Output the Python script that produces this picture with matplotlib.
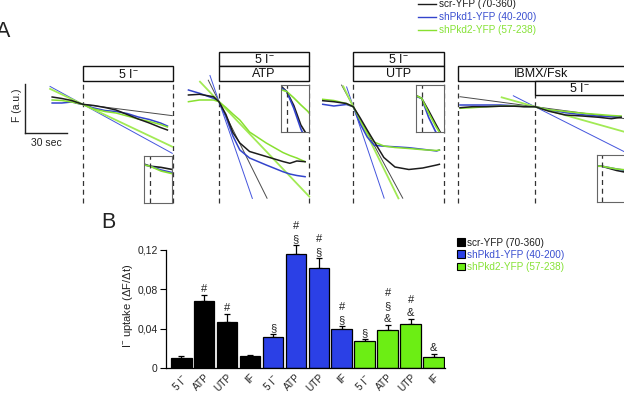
import matplotlib
matplotlib.use('Agg')
import matplotlib.pyplot as plt
from matplotlib.patches import Rectangle, Patch
from matplotlib.lines import Line2D

plt.rcParams['font.family'] = ['Liberation Sans', 'DejaVu Sans']
plt.rcParams['mathtext.fontset'] = 'custom'
plt.rcParams['mathtext.rm'] = 'Liberation Sans'
plt.rcParams['mathtext.it'] = 'Liberation Sans:italic'
plt.rcParams['mathtext.bf'] = 'Liberation Sans:bold'

# ---------------- data ----------------
groups = ['scr-YFP (70-360)', 'shPkd1-YFP (40-200)', 'shPkd2-YFP (57-238)']

# Panel A: time (s) relative to I- addition, fluorescence F (a.u.)
t1 = [-22, -15, -8, 0, 8, 16, 24, 32, 40, 48, 56, 61]
p1_scr = [7.3, 5.8, 3.8, 0, -1.2, -3.2, -5.7, -10.2, -14.7, -18.7, -23.2, -25.7]
p1_pkd1 = [1.3, 1.3, 2.3, 0, -3.7, -6.2, -7.2, -9.2, -12.7, -15.2, -18.7, -21.7]
p1_pkd2 = [4.3, 3.8, 2.3, 0, -4.7, -7.2, -8.7, -11.7, -14.7, -17.2, -20.2, -22.7]

t2 = [-22, -14, -4, 0, 5, 10, 15, 22, 34, 46, 51, 56, 62]
p2_scr = [6.7, 7.4, 5.0, 0, -12.8, -30.8, -41.3, -49.8, -54.8, -59.8, -61.6, -59.3, -60.0]
p2_pkd1 = [11.7, 8.4, 3.4, 0, -15.3, -34.3, -48.3, -56.3, -63.3, -70.0, -72.3, -73.8, -75.0]
p2_pkd2 = [0.0, 1.7, 1.7, 0, -5.8, -12.3, -18.3, -30.3, -41.3, -50.8, -53.8, -56.3, -60.0]

t3 = [-22, -14, -5, 0, 5, 10, 15, 22, 30, 40, 50, 60, 62]
p3_scr = [6.0, 5.0, 3.2, 0, -11.3, -23.3, -34.8, -50.8, -60.3, -62.8, -61.3, -58.3, -57.6]
p3_pkd1 = [2.4, 0.7, 2.2, 0, -17.3, -30.3, -38.6, -39.5, -40.1, -41.0, -42.6, -44.3, -43.3]
p3_pkd2 = [7.4, 6.2, 3.2, 0, -13.3, -25.3, -35.3, -39.3, -40.8, -41.8, -43.0, -43.8, -43.3]

t4 = [-54, -45, -35, -25, -15, -8, 0, 10, 22, 34, 46, 55, 62]
p4_scr = [-1.0, 0, 0, 0.5, 0.5, 0, 0, -4.5, -8.3, -9.3, -10.6, -12.0, -10.6]
p4_pkd1 = [1.7, 1.7, 1.7, 1.7, 1.0, 0.2, 0, -3.0, -6.0, -8.0, -9.5, -10.0, -10.0]
p4_pkd2 = [-1.6, -1.0, 0, 0.5, 0.7, 0.3, 0, -3.0, -4.8, -6.5, -7.8, -8.8, -9.3]

# initial-rate fits: slope (F/s), start and end time (s), order scr, pkd1, pkd2
fit_slope = [[-0.176, -0.76, -0.657], [-2.79, -4.03, -1.46],
             [-2.57, -4.12, -2.82], [-0.185, -0.70, -0.39]]
fit_start = [[-5, -23.5, -23.5], [-7.7, -6.5, -13.7],
             [-8.4, -4.8, -7.2], [-54, -15.6, -24]]
fit_end = [[64.5, 64.5, 64.5], [34.6, 24, 65],
           [35.6, 22.2, 32.5], [64, 64, 64]]

stim_end = 65          # s, end of I- application
ibmx_start = -55.2     # s, IBMX/Fsk pre-treatment start
scale_t = 30           # s
scale_f = 49           # a.u.

# Panel B
conditions = ['5 I$^{-}$', 'ATP', 'UTP', 'IF']
uptake_scr = [0.0104, 0.0678, 0.0462, 0.0124]
uptake_pkd1 = [0.0317, 0.115, 0.101, 0.0397]
uptake_pkd2 = [0.0273, 0.038, 0.0442, 0.0114]
sem_scr = [0.0013, 0.0062, 0.0085, 0.0012]
sem_pkd1 = [0.0023, 0.0092, 0.0105, 0.0025]
sem_pkd2 = [0.0019, 0.0055, 0.0050, 0.0025]
# significance symbols, listed top to bottom
sig_scr = [[], ['#'], ['#'], []]
sig_pkd1 = [['§'], ['#', '§'], ['#', '§'], ['#', '§']]
sig_pkd2 = [['§'], ['#', '§', '&'], ['#', '&'], ['&']]
yticks_B = [0, 0.04, 0.08, 0.12]
ytick_labels_B = ['0', '0,04', '0,08', '0,12']

# ---------------- style ----------------
trace_col = ['#1c1c1c', '#3344cc', '#88e030']
fit_col = ['#4a4a4a', '#4455dd', '#a2ea55']
fit_lw = [0.7, 0.7, 1.3]
bar_col = ['#000000', '#2b40e6', '#6cee14']
text_col = ['#1e1e1e', '#3a4fd0', '#86e236']

W, H = 624, 393
fig = plt.figure(figsize=(W / 100, H / 100), dpi=100)


def rect(l, t, r, b):
    return [l / W, 1 - b / H, (r - l) / W, (b - t) / H]


S_PX = 0.72  # seconds per pixel
AX_TOP, AX_BOT = 40, 205


def yfrac(py):
    return (AX_BOT - py) / (AX_BOT - AX_TOP)


def trace_axes(left, right, px0, py0):
    ax = fig.add_axes(rect(left, AX_TOP, right, AX_BOT))
    ax.set_xlim((left - px0) * S_PX, (right - px0) * S_PX)
    ax.set_ylim(py0 - AX_BOT, py0 - AX_TOP)
    ax.axis('off')
    return ax


rows = {0: (51.7, 66), 1: (66, 80.7), 2: (80.7, 95)}


def stim_box(ax, t0, t1, row, label, tc=None):
    top, bot = rows[row]
    y0 = yfrac(bot)
    h = yfrac(top) - y0
    tr = ax.get_xaxis_transform()
    ax.add_patch(Rectangle((t0, y0), t1 - t0, h, transform=tr, fc='white',
                           ec='#111111', lw=1.0, clip_on=False, zorder=5))
    tc = (t0 + t1) / 2 if tc is None else tc
    ax.text(tc, y0 + h / 2 - 0.005, label, transform=tr, ha='center', va='center',
            fontsize=9, zorder=6, clip_on=False, color='#111111')


def vdash(ax, t, top_py):
    ax.axvline(t, ymin=yfrac(203), ymax=yfrac(top_py), color='#333333', lw=0.9,
               ls=(0, (4, 3)), zorder=1)


def draw_traces(ax, t, ys, lw=1.1):
    for i, y in enumerate(ys):
        ax.plot(t, y, color=trace_col[i], lw=lw, zorder=3 + (i == 0) * 0.5)


def draw_fits(ax, k):
    for i in range(3):
        ts = [fit_start[k][i], fit_end[k][i]]
        ax.plot(ts, [fit_slope[k][i] * x for x in ts], color=fit_col[i],
                lw=fit_lw[i], zorder=2)


def inset(box, t, ys, xl, yl):
    ax = fig.add_axes(rect(*box))
    ax.set_facecolor('white')
    ax.set_zorder(10)
    for i, y in enumerate(ys):
        ax.plot(t, y, color=trace_col[i], lw=1.2)
    ax.axvline(0, color='#333333', lw=0.9, ls=(0, (4, 3)))
    ax.set_xlim(*xl)
    ax.set_ylim(*yl)
    ax.set_xticks([])
    ax.set_yticks([])
    for s in ax.spines.values():
        s.set_color('#666666')
        s.set_linewidth(0.8)
    return ax


# ---- Panel A ----
fig.text(-4 / W, 1 - 36.7 / H, 'A', fontsize=15.5, color='#222222', ha='left',
         va='baseline')

ax1 = trace_axes(5, 180, 82.7, 104.3)
draw_fits(ax1, 0)
draw_traces(ax1, t1, [p1_scr, p1_pkd1, p1_pkd2])
vdash(ax1, 0, 80.7)
vdash(ax1, stim_end, 80.7)
stim_box(ax1, 0, stim_end, 1, '5 I$^{-}$')
sb_t0, sb_f0 = -41.5, -29
ax1.plot([sb_t0, sb_t0 + scale_t], [sb_f0, sb_f0], color='#222222', lw=1.0)
ax1.plot([sb_t0, sb_t0], [sb_f0, sb_f0 + scale_f], color='#222222', lw=1.0)
fig.text(17.3 / W, 1 - 105 / H, 'F (a.u.)', rotation=90, fontsize=7.5,
         ha='center', va='center', color='#222222')
fig.text(46 / W, 1 - 143.5 / H, '30 sec', fontsize=7.5, ha='center',
         va='center', color='#222222')

ax2 = trace_axes(183, 315, 219, 101.7)
draw_fits(ax2, 1)
draw_traces(ax2, t2, [p2_scr, p2_pkd1, p2_pkd2])
vdash(ax2, 0, 80.7)
vdash(ax2, stim_end, 80.7)
stim_box(ax2, 0, stim_end, 0, '5 I$^{-}$')
stim_box(ax2, 0, stim_end, 1, 'ATP')

ax3 = trace_axes(318, 450, 353.3, 106.7)
draw_fits(ax3, 2)
draw_traces(ax3, t3, [p3_scr, p3_pkd1, p3_pkd2])
vdash(ax3, 0, 80.7)
vdash(ax3, stim_end, 80.7)
stim_box(ax3, 0, stim_end, 0, '5 I$^{-}$')
stim_box(ax3, 0, stim_end, 1, 'UTP')

ax4 = trace_axes(452, 624, 535, 106.7)
draw_fits(ax4, 3)
draw_traces(ax4, t4, [p4_scr, p4_pkd1, p4_pkd2])
vdash(ax4, ibmx_start, 80.7)
vdash(ax4, 0, 95)
stim_box(ax4, ibmx_start, stim_end + 5, 1, 'IBMX/Fsk', tc=(ibmx_start + 64) / 2)
stim_box(ax4, 0, stim_end + 5, 2, '5 I$^{-}$', tc=32)

inset((144.3, 155.7, 172.3, 202.7), t1, [p1_scr, p1_pkd1, p1_pkd2], (-4, 16), (-35, 10))
inset((281, 85, 309.3, 131.7), t2, [p2_scr, p2_pkd1, p2_pkd2], (-4, 16), (-37, 6))
inset((416, 85, 444.3, 131.7), t3, [p3_scr, p3_pkd1, p3_pkd2], (-4, 16), (-30, 12))
inset((597.3, 155, 625.3, 201.7), t4, [p4_scr, p4_pkd1, p4_pkd2], (-3, 16), (-38, 12))

hA = [Line2D([], [], color=c, lw=1.0) for c in trace_col]
fig.legend(hA, groups, loc='upper left', bbox_to_anchor=(418 / W, 1 + 1 / H),
           frameon=False, fontsize=7.2, handlelength=1.8, handletextpad=0.35,
           labelspacing=0.3, borderpad=0, borderaxespad=0, labelcolor=text_col)

# ---- Panel B ----
fig.text(101 / W, 1 - 228.3 / H, 'B', fontsize=15.5, color='#222222', ha='left',
         va='baseline')
axB = fig.add_axes(rect(166, 244.6, 445, 368))
vals = uptake_scr + uptake_pkd1 + uptake_pkd2
sems = sem_scr + sem_pkd1 + sem_pkd2
sigs = sig_scr + sig_pkd1 + sig_pkd2
cols = [bar_col[0]] * 4 + [bar_col[1]] * 4 + [bar_col[2]] * 4
xpos = list(range(len(vals)))
axB.bar(xpos, vals, width=0.9, color=cols, edgecolor='black', linewidth=0.9, zorder=2)
axB.errorbar(xpos, vals, yerr=[[0] * len(vals), sems], fmt='none', ecolor='black',
             elinewidth=0.9, capsize=2.5, capthick=0.9, zorder=1, clip_on=False)
for x, v, s, syms in zip(xpos, vals, sems, sigs):
    for j, sym in enumerate(reversed(syms)):
        axB.annotate(sym, (x, v + s), xytext=(0, 4.5 + 9.2 * j),
                     textcoords='offset points', ha='center', va='center',
                     fontsize=8, color='#222222', annotation_clip=False)
axB.set_xlim(-0.663, 11.5)
axB.set_ylim(0, 0.125)
axB.set_yticks(yticks_B)
axB.set_yticklabels(ytick_labels_B)
axB.set_xticks(xpos)
axB.set_xticklabels(conditions * 3, rotation=45, ha='right', rotation_mode='anchor')
axB.tick_params(axis='x', length=0, labelsize=7.2, pad=3, labelcolor='#222222')
axB.tick_params(axis='y', length=4, width=0.8, labelsize=7.5, pad=2,
                labelcolor='#222222')
axB.spines['top'].set_visible(False)
axB.spines['right'].set_visible(False)
axB.spines['left'].set_bounds(0, 0.12)
for s in ('left', 'bottom'):
    axB.spines[s].set_linewidth(0.9)
axB.set_ylabel('I$^{-}$ uptake (ΔF/Δt)', fontsize=8, labelpad=2, color='#222222')

hB = [Patch(facecolor=c, edgecolor='black', linewidth=0.8) for c in bar_col]
fig.legend(hB, groups, loc='upper left', bbox_to_anchor=(457 / W, 1 - 237.5 / H),
           frameon=False, fontsize=7.2, handlelength=0.8, handleheight=0.8,
           handletextpad=0.2, labelspacing=0.22, borderpad=0, borderaxespad=0,
           labelcolor=text_col)

fig.savefig('out.png', dpi=100)
